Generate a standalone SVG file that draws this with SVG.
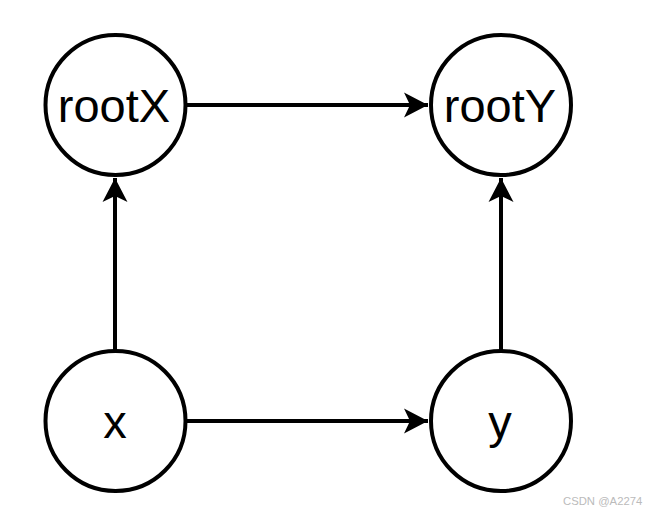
<svg xmlns="http://www.w3.org/2000/svg" width="654" height="514" viewBox="0 0 654 514">
<style>
.n{fill:#fff;stroke:#000;stroke-width:4}
.t{font-family:"Liberation Sans",Arial,sans-serif;font-size:47px;fill:#000;text-anchor:middle}
.e{stroke:#000;stroke-width:4;fill:none;marker-end:url(#ah)}
.w{font-family:"Liberation Sans",Arial,sans-serif;font-size:11.3px;fill:#bbb}
</style>
<defs>
<marker id="ah" markerUnits="userSpaceOnUse" viewBox="-26 -14 28 28" refX="0" refY="0" markerWidth="28" markerHeight="28" orient="auto">
<path d="M0,0 L-24,-12.5 L-18,0 L-24,12.5 Z" fill="#000"/>
</marker>
</defs>
<rect width="654" height="514" fill="#fff"/>
<g id="connectors">
<line class="e" x1="185.5" y1="105" x2="428" y2="105"/>
<line class="e" x1="185.5" y1="421" x2="428" y2="421"/>
<line class="e" x1="115" y1="351" x2="115" y2="178"/>
<line class="e" x1="501" y1="351" x2="501" y2="178"/>
</g>
<g id="rootX"><circle class="n" cx="115.5" cy="105" r="70"/><text class="t" x="114" y="122">rootX</text></g>
<g id="rootY"><circle class="n" cx="501" cy="105" r="70"/><text class="t" x="500" y="122">rootY</text></g>
<g id="x"><circle class="n" cx="115.5" cy="421" r="70"/><text class="t" x="115" y="438">x</text></g>
<g id="y"><circle class="n" cx="501" cy="421" r="70"/><text class="t" x="500" y="438">y</text></g>
<text class="w" x="563" y="505">CSDN @A2274</text>
</svg>
